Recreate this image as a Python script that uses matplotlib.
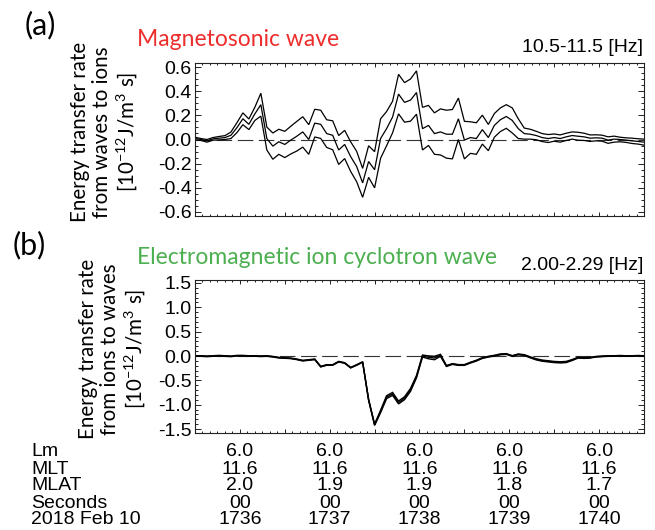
import numpy as np
import matplotlib.pyplot as plt
import matplotlib.transforms as mtransforms
from matplotlib.ticker import MultipleLocator

# time axis: seconds after 17:35:00 UT, 4 s cadence
t_sec = np.arange(30, 331, 4)

# (a) magnetosonic wave, 10.5-11.5 Hz  [1e-12 J/m^3 s]
ms_mean = [0.008, 0.000, -0.011, 0.005, 0.011, 0.016, 0.035, 0.098, 0.172, 0.126,
           0.213, 0.289, 0.008, -0.055, -0.019, -0.041, -0.005, 0.027, 0.063, 0.000,
           0.136, 0.126, 0.049, 0.035, -0.087, -0.041, -0.142, -0.224, -0.360, -0.183,
           -0.251, 0.008, 0.090, 0.186, 0.377, 0.308, 0.327, 0.390, 0.090, 0.117,
           0.049, 0.063, 0.044, 0.044, 0.172, -0.005, 0.016, 0.008, 0.082, 0.016,
           0.117, 0.164, 0.191, 0.158, 0.090, 0.049, 0.044, 0.033, 0.016, 0.008,
           0.016, 0.008, 0.022, 0.033, 0.027, 0.022, 0.011, 0.014, 0.011, -0.005,
           0.003, 0.000, -0.005, -0.011, -0.016, -0.022]
ms_err = [0.011, 0.008, 0.011, 0.011, 0.014, 0.016, 0.027, 0.041, 0.049, 0.044,
          0.055, 0.095, 0.095, 0.109, 0.104, 0.109, 0.115, 0.123, 0.126, 0.123,
          0.115, 0.117, 0.115, 0.120, 0.120, 0.117, 0.123, 0.126, 0.120, 0.131,
          0.150, 0.164, 0.142, 0.131, 0.164, 0.164, 0.175, 0.180, 0.177, 0.166,
          0.172, 0.191, 0.199, 0.205, 0.172, 0.156, 0.131, 0.131, 0.120, 0.109,
          0.098, 0.098, 0.098, 0.104, 0.082, 0.046, 0.041, 0.035, 0.033, 0.033,
          0.030, 0.030, 0.030, 0.030, 0.033, 0.030, 0.027, 0.025, 0.025, 0.027,
          0.025, 0.019, 0.019, 0.022, 0.022, 0.025]

# (b) EMIC wave, 2.00-2.29 Hz
emic_mean = [0.000, 0.000, -0.007, 0.000, 0.007, 0.000, -0.007, 0.007, 0.007, 0.000,
             0.000, -0.005, 0.000, -0.014, -0.034, -0.041, -0.048, -0.068, -0.095, -0.082,
             -0.068, -0.218, -0.184, -0.184, -0.116, -0.143, -0.239, -0.184, -0.123, -0.900,
             -1.411, -1.138, -0.845, -0.777, -0.954, -0.866, -0.695, -0.423, 0.000, -0.027,
             -0.041, 0.014, -0.205, -0.164, -0.184, -0.184, -0.136, -0.095, -0.041, -0.014,
             0.007, 0.034, 0.041, 0.000, 0.034, 0.020, -0.027, -0.068, -0.095, -0.109,
             -0.123, -0.130, -0.123, -0.082, -0.034, -0.041, -0.034, -0.014, -0.007, 0.000,
             0.000, 0.005, 0.000, 0.000, 0.005, 0.000]
emic_err = [0.006, 0.006, 0.006, 0.006, 0.006, 0.006, 0.006, 0.006, 0.006, 0.006,
            0.006, 0.006, 0.006, 0.006, 0.006, 0.006, 0.006, 0.006, 0.006, 0.006,
            0.006, 0.006, 0.006, 0.006, 0.006, 0.006, 0.006, 0.006, 0.006, 0.010,
            0.015, 0.025, 0.030, 0.030, 0.030, 0.030, 0.030, 0.025, 0.020, 0.030,
            0.035, 0.020, 0.010, 0.008, 0.008, 0.008, 0.008, 0.008, 0.008, 0.008,
            0.008, 0.008, 0.008, 0.008, 0.008, 0.008, 0.010, 0.012, 0.012, 0.012,
            0.012, 0.012, 0.012, 0.010, 0.008, 0.008, 0.008, 0.006, 0.006, 0.006,
            0.006, 0.006, 0.006, 0.006, 0.006, 0.006]

# orbit annotation rows under the time axis
tick_sec = [60, 120, 180, 240, 300]
row_names = ['Lm', 'MLT', 'MLAT', 'Seconds', '2018 Feb 10']
lm_vals = ['6.0', '6.0', '6.0', '6.0', '6.0']
mlt_vals = ['11.6', '11.6', '11.6', '11.6', '11.6']
mlat_vals = ['2.0', '1.9', '1.9', '1.8', '1.7']
sec_vals = ['00', '00', '00', '00', '00']
hhmm_vals = ['1736', '1737', '1738', '1739', '1740']

IDL_FONT = 'Liberation Sans'
LABEL_FONT = 'Lato'
W, H = 655, 530

fig = plt.figure(figsize=(W / 100, H / 100), dpi=100)


def px_axes(x0, y0, x1, y1):
    return fig.add_axes([x0 / W, 1 - y1 / H, (x1 - x0) / W, (y1 - y0) / H])


def style_axes(ax, ylim, ymajor, yminor):
    ax.set_xlim(30, 330)
    ax.set_ylim(*ylim)
    ax.xaxis.set_major_locator(MultipleLocator(30))
    ax.xaxis.set_minor_locator(MultipleLocator(5))
    ax.yaxis.set_major_locator(MultipleLocator(ymajor))
    ax.yaxis.set_minor_locator(MultipleLocator(yminor))
    ax.tick_params(which='both', direction='in', top=True, right=True,
                   labelbottom=False, width=0.7, color='#222222')
    ax.tick_params(axis='y', which='major', length=4.5, pad=2.5, labelsize=14)
    ax.tick_params(axis='y', which='minor', length=2.3)
    ax.tick_params(axis='x', which='major', length=3.0)
    ax.tick_params(axis='x', which='minor', length=1.5)
    ax.yaxis.set_major_formatter(plt.FuncFormatter(lambda v, _: f'{v:.1f}'))
    for lab in ax.get_yticklabels():
        lab.set_fontfamily(IDL_FONT)
    for sp in ax.spines.values():
        sp.set_linewidth(0.8)
        sp.set_color('#222222')


def draw_series(ax, mean, err, lw):
    mean = np.asarray(mean)
    err = np.asarray(err)
    ax.axhline(0, color='#333333', lw=0.8, dashes=(14, 5))
    for y in (mean + err, mean, mean - err):
        ax.plot(t_sec, y, color='black', lw=lw, solid_joinstyle='miter')


# --- (a) magnetosonic wave ---
ax1 = px_axes(195, 63, 644, 216)
draw_series(ax1, ms_mean, ms_err, 0.9)
style_axes(ax1, (-0.635, 0.635), 0.2, 0.05)

# --- (b) EMIC wave ---
ax2 = px_axes(195, 280, 644, 433)
draw_series(ax2, emic_mean, emic_err, 1.0)
style_axes(ax2, (-1.58, 1.56), 0.5, 0.1)

# panel headers
fig.text(40 / W, 1 - 25 / H, '(a)', fontsize=22, family=LABEL_FONT,
         ha='center', va='center')
fig.text(29 / W, 1 - 245 / H, '(b)', fontsize=22, family=LABEL_FONT,
         ha='center', va='center')
fig.text(137 / W, 1 - 39 / H, 'Magnetosonic wave', fontsize=16.5,
         family=LABEL_FONT, color='#ee2d2d', ha='left', va='center')
fig.text(137 / W, 1 - 257 / H, 'Electromagnetic ion cyclotron wave', fontsize=16.5,
         family=LABEL_FONT, color='#4caf50', ha='left', va='center')
fig.text(643 / W, 1 - 48 / H, '10.5-11.5 [Hz]', fontsize=14, family=IDL_FONT,
         ha='right', va='center')
fig.text(643 / W, 1 - 265 / H, '2.00-2.29 [Hz]', fontsize=14, family=IDL_FONT,
         ha='right', va='center')

# y-axis titles
unit = r'[10$^{\mathregular{-12}}$J/m$^{\mathregular{3}}$ s]'
fig.text(105 / W, 1 - 132 / H, 'Energy transfer rate\nfrom waves to ions\n' + unit,
         fontsize=14.8, family=LABEL_FONT, rotation=90, ha='center', va='center',
         multialignment='center', linespacing=1.15)
fig.text(113 / W, 1 - 349 / H, 'Energy transfer rate\nfrom ions to waves\n' + unit,
         fontsize=14.8, family=LABEL_FONT, rotation=90, ha='center', va='center',
         multialignment='center', linespacing=1.15)

# annotation table under panel (b)
trans = mtransforms.blended_transform_factory(ax2.transData, fig.transFigure)
row_y = [452, 469, 486, 503, 519]
rows = [lm_vals, mlt_vals, mlat_vals, sec_vals, hhmm_vals]
for name, vals, y in zip(row_names, rows, row_y):
    fig.text(31 / W, 1 - y / H, name, fontsize=14, family=IDL_FONT,
             ha='left', va='center')
    for x, v in zip(tick_sec, vals):
        ax2.text(x, 1 - y / H, v, transform=trans, fontsize=14, family=IDL_FONT,
                 ha='center', va='center')

fig.savefig('out.png', dpi=100)
